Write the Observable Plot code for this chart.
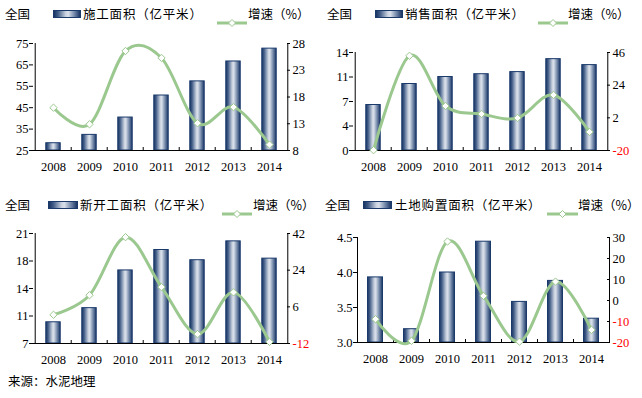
<!DOCTYPE html>
<html>
<head>
<meta charset="utf-8">
<script src="https://cdn.jsdelivr.net/npm/d3@7"></script>
<script src="https://cdn.jsdelivr.net/npm/@observablehq/plot@0.6"></script>
<style>
  html, body { margin: 0; padding: 0; background: #fff; }
  #root { position: relative; width: 642px; height: 398px; overflow: hidden; font-family: "Noto Sans CJK SC", sans-serif; }
  .panel { position: absolute; width: 321px; height: 185px; }
  .panel svg { position: absolute; left: 0; top: 0; }
  .lbl { position: absolute; font-size: 12.5px; line-height: 14px; color: #000; white-space: nowrap; }
  .ttl { letter-spacing: 0.8px; }
  .bsw { position: absolute; height: 6px; border: 1px solid #1a3a6c;
    background: linear-gradient(to right, #1b3563 0%, #3f5a85 15%, #c9d2df 45%, #d9e0ea 55%, #6c82a4 80%, #1b3563 100%); }
  .lsw { position: absolute; }
  #caption { position: absolute; left: 8px; top: 374px; font-size: 12.5px; line-height: 14px; }
</style>
</head>
<body>
<div id="root"></div>
<script>
// ---- data ----
const years = ["2008", "2009", "2010", "2011", "2012", "2013", "2014"];

const p1Title = "施工面积（亿平米）";
const p1Area = [28.4, 32.3, 40.4, 50.7, 57.3, 66.6, 72.6];
const p1Rate = [16.0, 12.9, 26.6, 25.3, 13.1, 16.1, 9.1];
const p1LeftTicks = [25, 35, 45, 55, 65, 75];
const p1LeftLabels = ["25", "35", "45", "55", "65", "75"];
const p1RightTicks = [8, 13, 18, 23, 28];

const p2Title = "销售面积（亿平米）";
const p2Area = [6.5, 9.5, 10.5, 10.9, 11.2, 13.05, 12.2];
const p2Rate = [-19.8, 43.8, 10.0, 4.6, 1.9, 17.4, -7.5];
const p2LeftTicks = [0, 3.5, 7, 10.5, 14];
const p2LeftLabels = ["0", "4", "7", "11", "14"];
const p2RightTicks = [-20, 2, 24, 46];

const p3Title = "新开工面积（亿平米）";
const p3Area = [9.7, 11.5, 16.3, 18.9, 17.6, 20.0, 17.8];
const p3Rate = [2.1, 11.7, 40.2, 15.7, -7.4, 13.1, -11.2];
const p3LeftTicks = [7, 10.5, 14, 17.5, 21];
const p3LeftLabels = ["7", "11", "14", "18", "21"];
const p3RightTicks = [-12, 6, 24, 42];

const p4Title = "土地购置面积（亿平米）";
const p4Area = [3.93, 3.19, 4.0, 4.44, 3.58, 3.88, 3.34];
const p4Rate = [-8.9, -19.2, 28.1, 2.2, -19.6, 9.0, -14.0];
const p4LeftTicks = [3.0, 3.5, 4.0, 4.5];
const p4LeftLabels = ["3.0", "3.5", "4.0", "4.5"];
const p4RightTicks = [-20, -10, 0, 10, 20, 30];

const headerText = "全国";
const rateText = "增速（%）";
const captionText = "来源：水泥地理";

// ---- styling ----
const GREEN = "#9bc88f";
const NAVY = "#1a3a6c";
const W = 321, H = 180;

function panel(cfg, id) {
  const root = document.getElementById("root");
  const div = document.createElement("div");
  div.className = "panel";
  div.style.left = cfg.left + "px";
  div.style.top = cfg.top + "px";
  root.appendChild(div);

  const data = years.map((y, i) => ({year: y, area: cfg.area[i], rate: cfg.rate[i]}));
  const plotW = W - cfg.ml - cfg.mr;
  const plotH = H - cfg.mt - cfg.mb;
  const step = plotW / years.length;
  const barW = 15;
  const inset = (step - barW) / 2;
  const lo = cfg.lTicks[0], hi = cfg.lTicks[cfg.lTicks.length - 1];
  const rlo = cfg.rTicks[0], rhi = cfg.rTicks[cfg.rTicks.length - 1];
  const unitPerPx = (hi - lo) / plotH;

  const common = {
    width: W, height: H,
    marginLeft: cfg.ml, marginRight: cfg.mr, marginTop: cfg.mt, marginBottom: cfg.mb,
    style: {background: "transparent", overflow: "visible", fontFamily: "'Liberation Serif', serif", fontSize: "12.5px", color: "#000"}
  };

  const bars = Plot.plot({
    ...common,
    x: {type: "band", domain: years, padding: 0, label: null},
    y: {domain: [lo, hi], label: null},
    marks: [
      Plot.barY(data, {x: "year", y1: lo, y2: "area", insetLeft: inset, insetRight: inset,
        fill: `url(#bg${id})`, stroke: NAVY, strokeWidth: 1}),
      Plot.ruleY([lo], {stroke: "#000"}),
      Plot.ruleX([years[0]], {dx: -step / 2, stroke: "#000"}),
      Plot.ruleX(years.slice(1), {dx: -step / 2, y1: lo, y2: lo + 3 * unitPerPx, stroke: "#000"}),
      Plot.axisY({ticks: cfg.lTicks, tickFormat: d => cfg.lLabels[cfg.lTicks.indexOf(d)],
        tickSize: 4, tickPadding: 1, label: null, stroke: "#000"}),
      Plot.axisX({tickSize: 0, tickPadding: 12, label: null})
    ]
  });
  const defs = d3.select(bars).insert("defs", ":first-child");
  const g = defs.append("linearGradient").attr("id", `bg${id}`)
    .attr("x1", 0).attr("x2", 1).attr("y1", 0).attr("y2", 0);
  [[0, "#1b3563"], [0.15, "#3f5a85"], [0.45, "#c9d2df"], [0.55, "#d9e0ea"], [0.8, "#6c82a4"], [1, "#1b3563"]]
    .forEach(([o, c]) => g.append("stop").attr("offset", o).attr("stop-color", c));
  div.appendChild(bars);

  const lines = Plot.plot({
    ...common,
    x: {type: "band", domain: years, padding: 0, axis: null},
    y: {domain: [rlo, rhi], label: null},
    marks: [
      Plot.ruleX([years[years.length - 1]], {dx: step / 2, stroke: "#000"}),
      Plot.axisY({anchor: "right", ticks: cfg.rTicks, tickFormat: d => String(d),
        tickSize: -3, tickPadding: 6, label: null, stroke: "#000"}),
      Plot.line(data, {x: "year", y: "rate", curve: "cardinal", stroke: GREEN, strokeWidth: 3}),
      Plot.dot(data, {x: "year", y: "rate", symbol: "diamond2", r: 3.3, fill: "#fff", stroke: GREEN, strokeWidth: 1})
    ]
  });
  d3.select(lines).selectAll("text").filter(function() { return this.textContent.startsWith("-"); })
    .attr("fill", "#ff0000");
  div.appendChild(lines);

  // header / legend
  const hy = cfg.hy;
  const add = (cls, x, text, extra) => {
    const e = document.createElement("div");
    e.className = cls;
    e.style.left = x + "px";
    if (text) e.textContent = text;
    Object.assign(e.style, extra || {});
    div.appendChild(e);
    return e;
  };
  add("lbl", cfg.lg[0], headerText, {top: (hy - 7) + "px"});
  add("bsw", cfg.lg[1], null, {top: (hy - 4) + "px", width: (cfg.lg[2] - 2) + "px"});
  add("lbl ttl", cfg.lg[3], cfg.title, {top: (hy - 7) + "px"});
  const sw = add("lsw", cfg.lg[4], null, {top: (hy - 5) + "px"});
  const lw = cfg.lg[5];
  sw.innerHTML = `<svg width="${lw}" height="10" style="position:static"><line x1="0" y1="5" x2="${lw}" y2="5" stroke="${GREEN}" stroke-width="3"/><path d="M${lw/2},1.5L${lw/2+3.5},5L${lw/2},8.5L${lw/2-3.5},5Z" fill="#fff" stroke="${GREEN}" stroke-width="1"/></svg>`;
  add("lbl", cfg.lg[6], rateText, {top: (hy - 7) + "px"});
}

panel({left: 0, top: 0, ml: 33, mr: 32, mt: 43, mb: 30, hy: 14,
  area: p1Area, rate: p1Rate, lTicks: p1LeftTicks, lLabels: p1LeftLabels, rTicks: p1RightTicks,
  title: p1Title, lg: [5, 53, 28, 83, 217, 30, 248]}, 1);
panel({left: 320, top: 0, ml: 33, mr: 32, mt: 52, mb: 30, hy: 14,
  area: p2Area, rate: p2Rate, lTicks: p2LeftTicks, lLabels: p2LeftLabels, rTicks: p2RightTicks,
  title: p2Title, lg: [7, 55, 28, 85, 218, 30, 248]}, 2);
panel({left: 0, top: 190, ml: 33, mr: 32, mt: 43, mb: 27, hy: 15,
  area: p3Area, rate: p3Rate, lTicks: p3LeftTicks, lLabels: p3LeftLabels, rTicks: p3RightTicks,
  title: p3Title, lg: [5, 48, 30, 80, 222, 30, 253]}, 3);
panel({left: 320, top: 190, ml: 37, mr: 32, mt: 47, mb: 28, hy: 15,
  area: p4Area, rate: p4Rate, lTicks: p4LeftTicks, lLabels: p4LeftLabels, rTicks: p4RightTicks,
  title: p4Title, lg: [5, 43, 29, 75, 227, 31, 258]}, 4);

const cap = document.createElement("div");
cap.id = "caption";
cap.textContent = captionText;
document.getElementById("root").appendChild(cap);
</script>
</body>
</html>
